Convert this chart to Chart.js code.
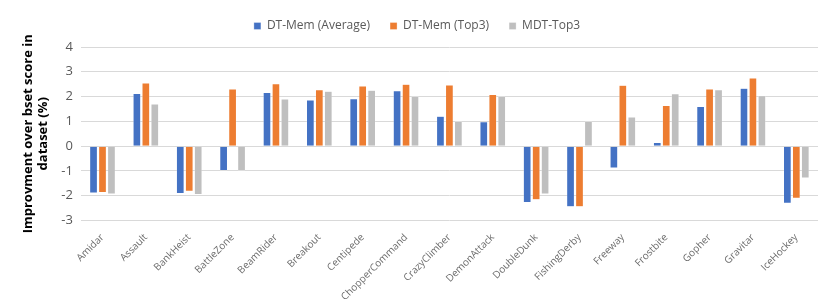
<!DOCTYPE html>
<html>
<head>
<meta charset="utf-8">
<script src="https://cdn.jsdelivr.net/npm/chart.js@4"></script>
<style>
  html, body { margin: 0; padding: 0; background: #fff; }
  #wrap { width: 830px; height: 306px; }
</style>
</head>
<body>
<div id="wrap"><canvas id="chart"></canvas></div>
<script>
const games = ['Amidar', 'Assault', 'BankHeist', 'BattleZone', 'BeamRider', 'Breakout', 'Centipede',
  'ChopperCommand', 'CrazyClimber', 'DemonAttack', 'DoubleDunk', 'FishingDerby', 'Freeway',
  'Frostbite', 'Gopher', 'Gravitar', 'IceHockey']

const dtMemAvg  = [-1.89, 2.12, -1.91, -0.98, 2.17, 1.86, 1.91, 2.24, 1.21, 0.99, -2.27, -2.44, -0.88, 0.15, 1.60, 2.34, -2.30]
const dtMemTop3 = [-1.87, 2.55, -1.82, 2.31, 2.52, 2.28, 2.43, 2.50, 2.47, 2.08, -2.16, -2.44, 2.46, 1.64, 2.31, 2.75, -2.10]
const mdtTop3   = [-1.93, 1.70, -1.95, -0.98, 1.90, 2.22, 2.26, 2.00, 1.00, 2.00, -1.93, 1.00, 1.18, 2.11, 2.28, 2.03, -1.28]

const yTicks = { min: -3, max: 4, step: 1 }

const font = "'Open Sans', 'Liberation Sans', sans-serif"

const mkSet = (label, data, color) => ({
  label: label,
  data: data,
  backgroundColor: color,
  borderColor: 'rgba(255,255,255,0.6)',
  borderWidth: 0.5,
  barPercentage: 0.86,
  categoryPercentage: 0.62
})

// push the plot a bit further below the legend
const legendGap = {
  id: 'legendGap',
  beforeInit(chart) {
    const fit = chart.legend.fit
    chart.legend.fit = function () {
      fit.bind(chart.legend)()
      this.height += 5
    }
  }
}

const data = {
  labels: games,
  datasets: [
    mkSet('DT-Mem (Average)', dtMemAvg, '#4472C4'),
    mkSet('DT-Mem (Top3)', dtMemTop3, '#ED7D31'),
    mkSet('MDT-Top3', mdtTop3, '#BFBFBF')
  ]
}

const config = {
  type: 'bar',
  data: data,
  plugins: [legendGap],
  options: {
    responsive: true,
    maintainAspectRatio: false,
    animation: false,
    layout: { padding: { left: 16, right: 12, top: 0, bottom: 0 } },
    plugins: {
      legend: {
        position: 'top',
        labels: {
          boxWidth: 7,
          boxHeight: 7,
          padding: 20,
          color: '#595959',
          font: { family: font, size: 12 }
        }
      },
      tooltip: { enabled: false }
    },
    scales: {
      x: {
        grid: { display: false },
        border: { display: false },
        ticks: {
          autoSkip: false,
          minRotation: 45,
          maxRotation: 45,
          color: '#6b6b6b',
          font: { family: font, size: 10 }
        }
      },
      y: {
        min: yTicks.min,
        max: yTicks.max,
        border: { display: false },
        grid: { color: '#D9D9D9', lineWidth: 1, drawTicks: false },
        ticks: {
          stepSize: yTicks.step,
          padding: 8,
          color: '#595959',
          font: { family: font, size: 13 }
        },
        title: {
          display: true,
          text: ['Improvment over bset score in', 'dataset (%)'],
          color: '#000',
          font: { family: font, size: 13, weight: 'bold' },
          padding: { bottom: 2 }
        }
      }
    }
  }
}

new Chart(document.getElementById('chart'), config)
</script>
</body>
</html>
